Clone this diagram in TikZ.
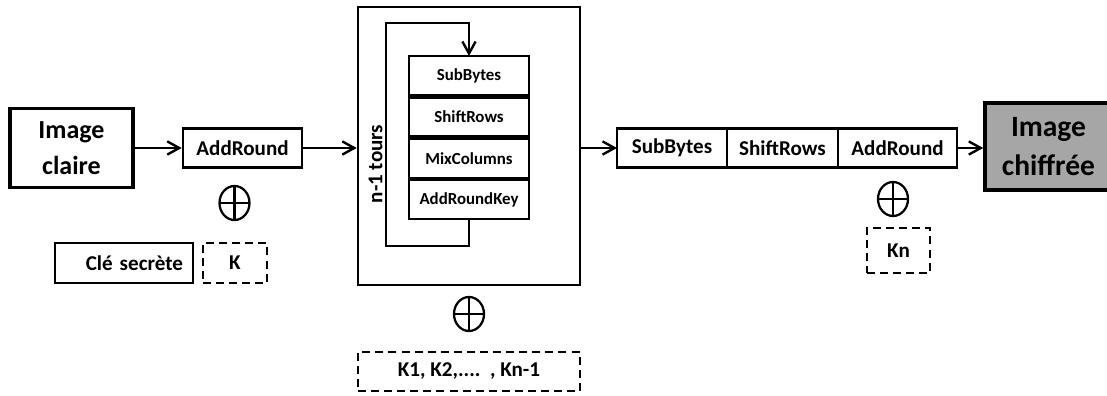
\documentclass[tikz,border=0pt]{standalone}
\usepackage{fontspec}
\setmainfont{Carlito}
\usetikzlibrary{shapes.geometric, arrows.meta, positioning, calc}
\definecolor{cipherfill}{RGB}{166, 166, 166}

\begin{document}
\begin{tikzpicture}[
    imgblock/.style={draw, line width=2.5pt, align=center, inner sep=0pt, font=\fontsize{18.5}{26}\selectfont\bfseries},
    block/.style={draw, line width=1.8pt, inner sep=0pt, minimum height=0.975cm, font=\fontsize{15}{18}\selectfont\bfseries},
    subblock/.style={draw, line width=1.8pt, inner sep=0pt, outer sep=0pt, minimum width=3cm, minimum height=0.975cm, font=\fontsize{12}{14}\selectfont\bfseries},
    keybox/.style={draw, dash pattern=on 5.7pt off 3.6pt, line width=1.8pt, inner sep=0pt, font=\fontsize{15}{18}\selectfont\bfseries},
    xorsym/.style={draw, ellipse, line width=1.6pt, inner sep=0pt, minimum width=0.75cm, minimum height=0.85cm,
        path picture={\draw[line width=1.6pt] (path picture bounding box.north) -- (path picture bounding box.south)
            (path picture bounding box.west) -- (path picture bounding box.east);}},
    arrow/.style={-{Straight Barb[length=3mm, width=3.3mm]}, line width=1.7pt}
]
\useasboundingbox (0,0) rectangle (27.675,9.9);

% Premier tour
\node (img) [imgblock, minimum width=3.075cm, minimum height=1.975cm] at (1.7875,6.2) {Image\\claire};
\node (add1) [block, minimum width=2.975cm] at (6.0625,6.2) {AddRound};
\node (xor1) [xorsym] at (5.8625,4.825) {};
\node (cle) [draw, line width=0.8pt, inner xsep=0.25cm, inner ysep=0pt, text width=2.95cm, align=right, minimum height=1cm, font=\fontsize{15}{18}\selectfont\bfseries] at (3.1,3.325) {Clé secrète};
\node (k) [keybox, minimum width=1.6cm, minimum height=1cm] at (5.875,3.325) {K};

% Tours intermediaires
\node (tours) [draw, line width=1.8pt, minimum width=5.55cm, minimum height=6.95cm] at (11.725,6.25) {};
\node (sub) [subblock] at (11.725,8.0125) {SubBytes};
\node (shift) [subblock, below=0.06cm of sub] {ShiftRows};
\node (mix) [subblock, below=0.06cm of shift] {MixColumns};
\node (ark) [subblock, below=0.06cm of mix] {AddRoundKey};
\node (ntours) [rotate=90, font=\fontsize{15}{18}\selectfont\bfseries] at (9.39,5.8) {n-1 tours};
\node (xor2) [xorsym] at (11.725,2.05) {};
\node (keys) [keybox, minimum width=5.55cm, minimum height=0.975cm] at (11.725,0.6125) {K1, K2,....~~, Kn-1};

% Dernier tour
\node (fsub) [block, outer sep=0pt, minimum width=2.75cm] at (16.8,6.2) {SubBytes};
\node (fshift) [block, outer sep=0pt, minimum width=2.775cm, right=0cm of fsub] {ShiftRows};
\node (fadd) [block, outer sep=0pt, minimum width=2.975cm, right=0cm of fshift] {AddRound};
\node (xor3) [xorsym] at (22.325,4.925) {};
\node (kn) [keybox, minimum width=1.575cm, minimum height=1.125cm] at (22.4625,3.6375) {Kn};
\node (cipher) [imgblock, fill=cipherfill, minimum width=3.175cm, minimum height=2.175cm, font=\fontsize{21}{28}\selectfont\bfseries] at (26.2125,6.2375) {Image\\chiffrée};

% Connecteurs
\draw [arrow] (img) -- (add1);
\draw [arrow] (add1) -- (add1 -| tours.west);
\draw [arrow] (ark.south) -- ++(0,-0.675) -- ++(-2.075,0) |- ($(sub.north)+(0,0.825)$) -- (sub.north);
\draw [arrow] (tours.east |- fsub) -- (fsub);
\draw [arrow] (fadd) -- (fadd -| cipher.west);

\end{tikzpicture}
\end{document}
